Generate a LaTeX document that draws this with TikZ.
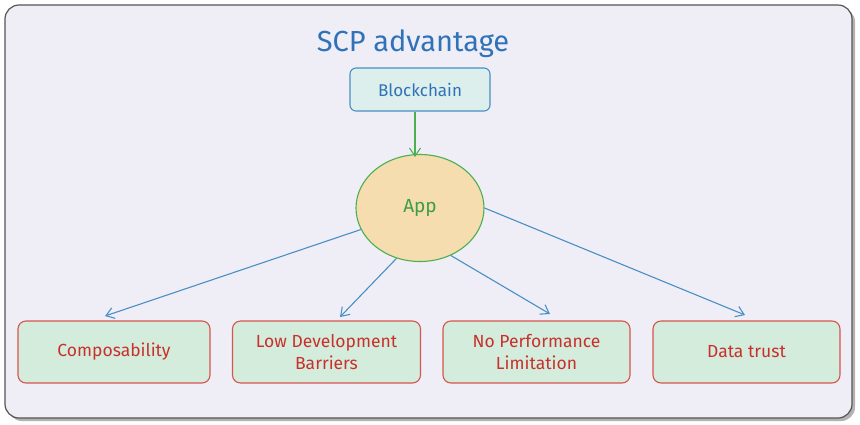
\documentclass[tikz,border=0pt]{standalone}
\usepackage{fontspec}
\setmainfont{Fira Sans}
\usetikzlibrary{shapes.geometric,arrows.meta,shadows}
\definecolor{framefill}{HTML}{EFEEF7}
\definecolor{frameline}{HTML}{555555}
\definecolor{bluetxt}{HTML}{2F72B8}
\definecolor{blueline}{HTML}{4A8FC4}
\definecolor{topfill}{HTML}{DCEFEC}
\definecolor{appfill}{HTML}{F5DDB0}
\definecolor{greenline}{HTML}{4CAF50}
\definecolor{greentxt}{HTML}{3E9E45}
\definecolor{boxfill}{HTML}{D3ECDC}
\definecolor{redline}{HTML}{D9534F}
\definecolor{redtxt}{HTML}{C9302C}
\tikzset{
  x=1pt,y=-1pt,
  framebox/.style={draw=frameline,line width=1.2pt,fill=framefill,rounded corners=14pt},
  topbox/.style={draw=blueline,fill=topfill,line width=1.1pt,rounded corners=6pt,minimum width=140pt,minimum height=43pt,text=bluetxt,font=\fontsize{17}{19}\selectfont},
  appnode/.style={ellipse,draw=greenline,fill=appfill,line width=1.1pt,minimum width=128pt,minimum height=107pt,text=greentxt,font=\fontsize{19}{21}\selectfont},
  leafbox/.style={draw=redline,fill=boxfill,line width=1.1pt,rounded corners=8pt,minimum height=62pt,text=redtxt,align=center,font=\fontsize{17.5}{22}\selectfont},
  bluearrow/.style={draw=blueline,line width=1.1pt,-{Straight Barb[length=8pt,width=11pt]}},
  greenarrow/.style={draw=greenline,line width=1.1pt,-{Straight Barb[length=8pt,width=11pt]}},
  titlestyle/.style={text=bluetxt,font=\fontsize{29}{32}\selectfont}
}
\begin{document}
\begin{tikzpicture}
\useasboundingbox (0,0) rectangle (860,424);
\fill[white] (0,0) rectangle (860,424);
\fill[gray!60,rounded corners=14pt] (8,8) rectangle (855,421);
\draw[framebox] (5,5) rectangle (852,418);
\node[titlestyle] (title) at (413,44) {SCP advantage};
\node[topbox] (bc) at (420,89.5) {Blockchain};
\node[appnode] (app) at (420,208) {App};
\node[leafbox,minimum width=192pt] (c1) at (114,352) {Composability};
\node[leafbox,minimum width=188pt] (c2) at (326.5,352) {Low Development\\Barriers};
\node[leafbox,minimum width=187pt] (c3) at (536.5,352) {No Performance\\Limitation};
\node[leafbox,minimum width=187pt] (c4) at (746.5,352) {Data trust};
\coordinate (e1) at (105,316);
\coordinate (e2) at (340,317);
\coordinate (e3) at (550,314);
\coordinate (e4) at (745,315);
\draw[greenarrow] (bc.south -| 415,0) -- (415,157);
\draw[bluearrow] (app.200) -- (e1);
\draw[bluearrow] (app.245) -- (e2);
\draw[bluearrow] (app.303) -- (e3);
\draw[bluearrow] (app.east) -- (e4);
\end{tikzpicture}
\end{document}
